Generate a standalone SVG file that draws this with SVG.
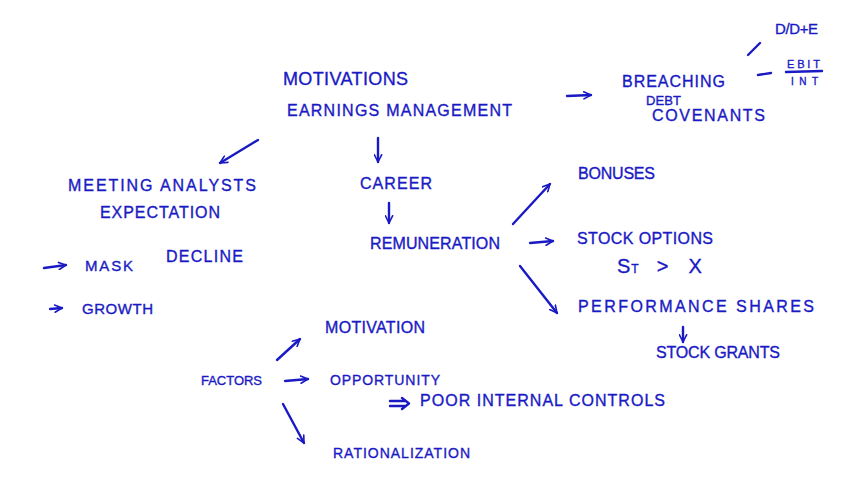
<svg xmlns="http://www.w3.org/2000/svg" width="852" height="490" viewBox="0 0 852 490" font-size="16">
<style>
text{font-family:"Liberation Sans",Arial,sans-serif;fill:#1a1ac4;stroke:#1a1ac4;stroke-width:0.35}
.c{fill:none;stroke:#1a1ac4;stroke-width:2.4;stroke-linecap:round;stroke-linejoin:round}
</style>
<defs>
<marker id="ah" viewBox="0 0 10 10" refX="9" refY="5" markerWidth="9" markerHeight="9" markerUnits="userSpaceOnUse" orient="auto">
<path d="M1,1 L9,5 L1,9" fill="none" stroke="#1a1ac4" stroke-width="1.8" stroke-linecap="round" stroke-linejoin="round"/>
</marker>
</defs>
<rect width="852" height="490" fill="#ffffff"/>
<g id="connectors">
<path class="c" d="M567,96 L591,95" marker-end="url(#ah)"/>
<path class="c" d="M748,55 L760,43"/>
<path class="c" d="M758,75 L771,73"/>
<path class="c" d="M258,140 L220,163" marker-end="url(#ah)"/>
<path class="c" d="M378,138 L378,162" marker-end="url(#ah)"/>
<path class="c" d="M389,203 L389,223" marker-end="url(#ah)"/>
<path class="c" d="M513,224 L550,184" marker-end="url(#ah)"/>
<path class="c" d="M530,243 L553,241" marker-end="url(#ah)"/>
<path class="c" d="M520,266 L557,313" marker-end="url(#ah)"/>
<path class="c" d="M683,327 L683,342" marker-end="url(#ah)"/>
<path class="c" d="M277,360 L300,339" marker-end="url(#ah)"/>
<path class="c" d="M285,381 L308,379" marker-end="url(#ah)"/>
<path class="c" d="M390,401 L405,401 M390,406 L405,406"/>
<path class="c" d="M402,398 L409,403.5 L402,409"/>
<path class="c" d="M283,404 L304,443" marker-end="url(#ah)"/>
<path class="c" d="M44,268 L66,265" marker-end="url(#ah)"/>
<path class="c" d="M50,309 L62,308" marker-end="url(#ah)"/>
<path class="c" d="M786,72 L822,71"/>
</g>
<g id="motivations"><text x="283" y="85" textLength="125" font-size="18">MOTIVATIONS</text></g>
<g id="earnings-management"><text x="287" y="116" textLength="225">EARNINGS MANAGEMENT</text></g>
<g id="breaching">
<text x="622" y="87" textLength="103">BREACHING</text>
<text x="646" y="105" textLength="35" font-size="13">DEBT</text>
<text x="652" y="121" textLength="113">COVENANTS</text>
</g>
<g id="debt-ratio"><text x="775" y="34" textLength="43" font-size="15">D/D+E</text></g>
<g id="ebit-int">
<text x="787" y="68" textLength="33" font-size="11">EBIT</text>
<text x="791" y="85" textLength="27" font-size="10">INT</text>
</g>
<g id="meeting-analysts">
<text x="68" y="191" textLength="188">MEETING ANALYSTS</text>
<text x="100" y="218" textLength="120">EXPECTATION</text>
</g>
<g id="mask-decline">
<text x="85" y="271" textLength="48" font-size="15">MASK</text>
<text x="166" y="262" textLength="77">DECLINE</text>
</g>
<g id="growth"><text x="82" y="314" textLength="71" font-size="15">GROWTH</text></g>
<g id="career"><text x="360" y="189" textLength="72">CAREER</text></g>
<g id="remuneration"><text x="370" y="249" textLength="130">REMUNERATION</text></g>
<g id="bonuses"><text x="578" y="179" textLength="77">BONUSES</text></g>
<g id="stock-options">
<text x="577" y="244" textLength="136">STOCK OPTIONS</text>
<text x="617" y="273" font-size="20">S<tspan font-size="12" dx="1">T</tspan><tspan dx="18">&gt;</tspan><tspan dx="20">X</tspan></text>
</g>
<g id="performance-shares"><text x="578" y="312" textLength="236">PERFORMANCE SHARES</text></g>
<g id="stock-grants"><text x="656" y="358" textLength="124">STOCK GRANTS</text></g>
<g id="factors"><text x="201" y="385" textLength="61" font-size="13">FACTORS</text></g>
<g id="motivation"><text x="325" y="333" textLength="100">MOTIVATION</text></g>
<g id="opportunity"><text x="330" y="385" textLength="110" font-size="14">OPPORTUNITY</text></g>
<g id="poor-internal-controls"><text x="420" y="406" textLength="245">POOR INTERNAL CONTROLS</text></g>
<g id="rationalization"><text x="333" y="458" textLength="137" font-size="14">RATIONALIZATION</text></g>
</svg>
